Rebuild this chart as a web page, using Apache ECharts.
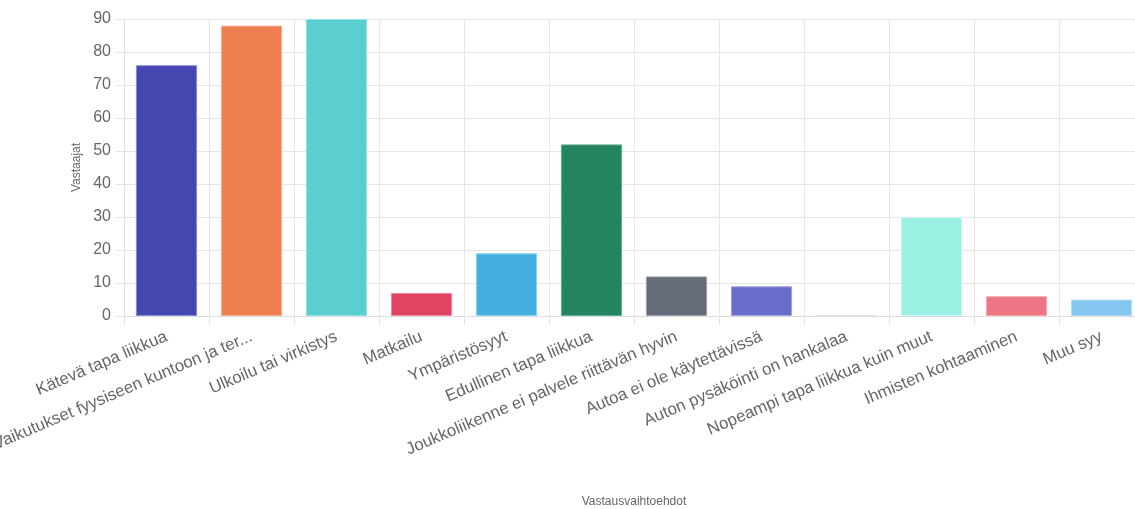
<!DOCTYPE html>
<html>
<head>
<meta charset="utf-8">
<script src="https://cdn.jsdelivr.net/npm/echarts@6/dist/echarts.min.js"></script>
<style>
  html, body { margin: 0; padding: 0; background: #fff; }
  #main { width: 1135px; height: 509px; }
</style>
</head>
<body>
<div id="main"></div>
<script>
const categories = [
  'Kätevä tapa liikkua',
  'Vaikutukset fyysiseen kuntoon ja ter...',
  'Ulkoilu tai virkistys',
  'Matkailu',
  'Ympäristösyyt',
  'Edullinen tapa liikkua',
  'Joukkoliikenne ei palvele riittävän hyvin',
  'Autoa ei ole käytettävissä',
  'Auton pysäköinti on hankalaa',
  'Nopeampi tapa liikkua kuin muut',
  'Ihmisten kohtaaminen',
  'Muu syy'
];
const values = [76, 88, 90, 7, 19, 52, 12, 9, 0, 30, 6, 5];
const barColors = [
  '#4447b0', '#ee7f51', '#5bcfcf', '#e04462', '#44b0e0', '#268360',
  '#646b79', '#6a6cc9', '#c0c0c0', '#9bf0e4', '#ee7684', '#86c7f2'
];
const borderColors = [
  '#8a8cdc', '#f7b092', '#8fe4e4', '#ee8aa0', '#8fd3f0', '#5fae90',
  '#9aa0ab', '#a3a4e6', '#dddddd', '#c8f8f1', '#f5a8b0', '#b5dcf7'
];

var myChart = echarts.init(document.getElementById('main'));
let option = {
  animation: false,
  // plot runs a little past the right edge, like the original
  grid: {
    left: 124, top: 19, width: 1020, height: 297,
    containLabel: false, outerBoundsMode: 'none'
  },
  xAxis: {
    type: 'category',
    data: categories,
    name: 'Vastausvaihtoehdot',
    nameLocation: 'middle',
    nameGap: 180,
    nameTextStyle: { color: '#666', fontSize: 12, fontFamily: 'Liberation Sans' },
    axisLine: { lineStyle: { color: '#dcdcdc' } },
    axisTick: { show: true, length: 9, lineStyle: { color: '#e6e6e6' } },
    splitLine: { show: true, lineStyle: { color: '#e6e6e6' } },
    axisLabel: {
      interval: 0,
      rotate: 23,
      margin: 20,
      color: '#666',
      fontSize: 16.8,
      fontFamily: 'Liberation Sans'
    }
  },
  yAxis: {
    type: 'value',
    min: 0,
    max: 90,
    interval: 10,
    name: 'Vastaajat',
    nameLocation: 'middle',
    nameGap: 40,
    nameTextStyle: { color: '#666', fontSize: 12, fontFamily: 'Liberation Sans' },
    axisLine: { show: true, lineStyle: { color: '#e0e0e0' } },
    axisTick: { show: true, length: 8, lineStyle: { color: '#e6e6e6' } },
    splitLine: { show: true, lineStyle: { color: '#e6e6e6' } },
    axisLabel: { color: '#666', fontSize: 16, margin: 13, fontFamily: 'Liberation Sans' }
  },
  series: [{
    type: 'bar',
    barCategoryGap: '28%',
    data: values.map((v, i) => ({
      value: v,
      itemStyle: { color: barColors[i], borderColor: borderColors[i], borderWidth: 1 }
    }))
  }]
};
myChart.setOption(option);
</script>
</body>
</html>
